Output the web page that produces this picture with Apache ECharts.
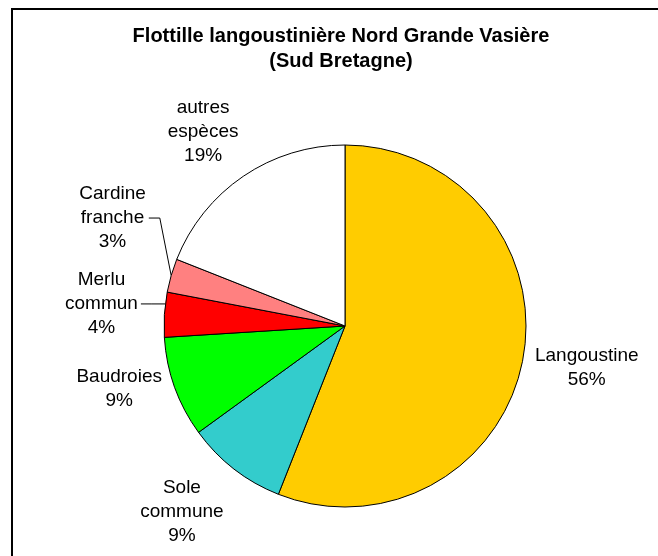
<!DOCTYPE html>
<html>
<head>
<meta charset="utf-8">
<script src="https://cdn.jsdelivr.net/npm/echarts@6/dist/echarts.min.js"></script>
<style>
html, body { margin: 0; padding: 0; background: #fff; }
#container { width: 658px; height: 556px; }
</style>
</head>
<body>
<div id="container"></div>
<script>
let species = ['Langoustine', 'Sole\ncommune', 'Baudroies', 'Merlu\ncommun', 'Cardine\nfranche', 'autres\nespèces'];
let shares = [56, 9, 9, 4, 3, 19];
let sliceColors = ['#FFCC00', '#33CCCC', '#00FF00', '#FF0000', '#FF8080', '#FFFFFF'];
let withLeader = [false, false, false, true, true, false];

// small moves of the labels, like excel does it
let labelNudge = [[6, -3], [-16, -4], [0, -19], [-4, -7], [-2, -41], [-7, 4]];

let cx = 345, cy = 326, radius = 181, labelDist = 240;
let total = shares.reduce(function (a, b) { return a + b; }, 0);
let font = "'Liberation Sans', Arial, sans-serif";

// angles are clockwise from 12 o'clock
function sliceStart(i) {
    let before = 0;
    for (let k = 0; k < i; k++) before += shares[k];
    return before / total * 2 * Math.PI;
}
function sliceEnd(i) {
    return sliceStart(i) + shares[i] / total * 2 * Math.PI;
}
function midAngle(i) {
    return (sliceStart(i) + sliceEnd(i)) / 2;
}

// where the leader line meets the pie: level with the label if it can, else mid slice
function leaderEdge(i, y) {
    let a = midAngle(i);
    let off = y - cy;
    if (Math.abs(off) < radius) {
        let sx = Math.sin(a) < 0 ? -1 : 1;
        let px = sx * Math.sqrt(radius * radius - off * off);
        let b = Math.atan2(px, -off);
        if (b < 0) b += 2 * Math.PI;
        if (b > sliceStart(i) + 0.02 && b < sliceEnd(i) - 0.02) return [cx + px, y];
    }
    return [cx + Math.sin(a) * radius, cy - Math.cos(a) * radius];
}

var dom = document.getElementById('container');
var myChart = echarts.init(dom, null, { renderer: 'canvas' });

var option = {
    animation: false,
    backgroundColor: '#fff',
    title: {
        text: 'Flottille langoustinière Nord Grande Vasière\n(Sud Bretagne)',
        left: 341,
        top: 24,
        padding: 0,
        textAlign: 'center',
        textStyle: {
            fontFamily: font,
            fontSize: 20,
            fontWeight: 'bold',
            lineHeight: 25,
            color: '#000'
        }
    },
    graphic: [{
        type: 'rect',
        shape: { x: 12, y: 9, width: 700, height: 700 },
        style: { fill: 'none', stroke: '#000', lineWidth: 2 },
        silent: true
    }],
    series: [{
        type: 'pie',
        center: [cx, cy],
        radius: radius,
        startAngle: 90,
        clockwise: true,
        avoidLabelOverlap: false,
        emphasis: { disabled: true },
        itemStyle: { borderColor: '#000', borderWidth: 1 },
        label: {
            show: true,
            position: 'outside',
            formatter: '{b}\n{c}%',
            fontFamily: font,
            fontSize: 19,
            lineHeight: 24,
            color: '#000'
        },
        labelLine: {
            show: false,
            lineStyle: { color: '#000', width: 1 }
        },
        labelLayout: function (params) {
            let i = params.dataIndex;
            let a = midAngle(i);
            let dx = Math.sin(a), dy = -Math.cos(a);
            let x = cx + dx * labelDist + labelNudge[i][0];
            let y = cy + dy * labelDist + labelNudge[i][1];
            let out = { x: x, y: y, align: 'center', verticalAlign: 'middle' };
            if (withLeader[i]) {
                let w = params.labelRect.width;
                let edge = leaderEdge(i, y);
                out.labelLinePoints = [edge, [x + w / 2 + 14, y], [x + w / 2 + 3, y]];
            }
            return out;
        },
        data: species.map(function (name, i) {
            return {
                name: name,
                value: shares[i],
                itemStyle: { color: sliceColors[i] },
                labelLine: { show: withLeader[i] }
            };
        })
    }]
};

myChart.setOption(option);
window.addEventListener('resize', myChart.resize);
</script>
</body>
</html>
